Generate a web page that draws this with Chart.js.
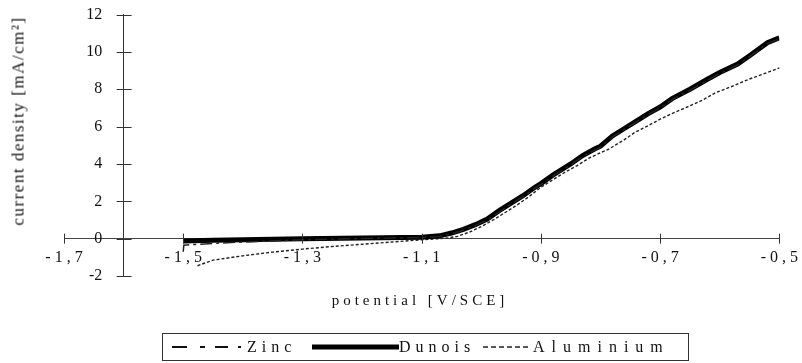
<!DOCTYPE html>
<html>
<head>
<meta charset="utf-8">
<script src="https://cdn.jsdelivr.net/npm/chart.js@4"></script>
<style>
    body { margin: 0; background: #fff; overflow: hidden; }
    #wrap { position: relative; width: 802px; height: 363px; overflow: hidden; font-family: "Liberation Serif", "DejaVu Serif", serif; color: #111; }
    /* le canvas est decale pour caler la zone du graphique */
    #chart { position: absolute; left: 0; top: -18px; }
    .txt { position: absolute; white-space: nowrap; line-height: 1; }
    #ytitle { left: 18px; top: 121px; font-size: 17px; letter-spacing: 1.5px; transform: translate(-50%, -50%) rotate(-90deg); }
    #xtitle { left: 420px; top: 300px; font-size: 15px; letter-spacing: 4px; transform: translate(-50%, -50%); }
    #legend { position: absolute; left: 162px; top: 333px; width: 525px; height: 26px; border: 1px solid #333; }
    #legend svg { position: absolute; top: 6px; }
    #legend .txt { top: 13px; font-size: 16px; transform: translateY(-50%); }
</style>
</head>
<body>
<div id="wrap">
    <canvas id="chart" width="808" height="381"></canvas>
    <div id="ytitle" class="txt">current density [mA/cm²]</div>
    <div id="xtitle" class="txt">potential [V/SCE]</div>
    <div id="legend">
        <svg style="left:9px" width="72" height="14"><line x1="0" y1="7" x2="72" y2="7" stroke="#111" stroke-width="2" stroke-dasharray="15,13,5,10,13,10,3,20"/></svg>
        <span class="txt" style="left:84px; letter-spacing:5px">Zinc</span>
        <svg style="left:149px" width="87" height="14"><line x1="0" y1="7" x2="87" y2="7" stroke="#000" stroke-width="5" stroke-linecap="round"/></svg>
        <span class="txt" style="left:236px; letter-spacing:5px">Dunois</span>
        <svg style="left:320px" width="45" height="14"><line x1="0" y1="7" x2="45" y2="7" stroke="#222" stroke-width="1.3" stroke-dasharray="5,3"/></svg>
        <span class="txt" style="left:370px; letter-spacing:7px">Aluminium</span>
    </div>
</div>
<script>
// potentiel (V/SCE) et densite de courant (mA/cm2)
const zincPotential = [-1.50, -1.499, -1.45, -1.40, -1.30, -1.20, -1.10, -1.07, -1.05, -1.03, -1.01, -0.99, -0.97, -0.95, -0.93, -0.91, -0.90, -0.88, -0.86, -0.85, -0.83, -0.81, -0.80, -0.78, -0.76, -0.74, -0.72, -0.70, -0.68, -0.65, -0.62, -0.60, -0.57, -0.55, -0.52, -0.50, -0.49];
const zincCurrent   = [-0.70, -0.35, -0.25, -0.18, -0.06, 0.01, 0.06, 0.12, 0.26, 0.45, 0.70, 1.00, 1.42, 1.85, 2.25, 2.70, 2.90, 3.35, 3.75, 3.95, 4.40, 4.75, 4.90, 5.45, 5.85, 6.25, 6.65, 7.00, 7.45, 7.95, 8.50, 8.85, 9.30, 9.75, 10.45, 10.70, 10.85];

const dunoisPotential = [-1.50, -1.45, -1.40, -1.30, -1.20, -1.10, -1.07, -1.05, -1.03, -1.01, -0.99, -0.97, -0.95, -0.93, -0.91, -0.90, -0.88, -0.86, -0.85, -0.83, -0.81, -0.80, -0.78, -0.76, -0.74, -0.72, -0.70, -0.68, -0.65, -0.62, -0.60, -0.57, -0.55, -0.52, -0.50, -0.487];
const dunoisCurrent   = [-0.12, -0.09, -0.06, 0.0, 0.04, 0.08, 0.15, 0.30, 0.50, 0.75, 1.05, 1.50, 1.90, 2.30, 2.75, 2.95, 3.40, 3.80, 4.00, 4.45, 4.80, 4.95, 5.50, 5.90, 6.30, 6.70, 7.05, 7.50, 8.00, 8.55, 8.90, 9.35, 9.80, 10.50, 10.75, 10.95];

const aluPotential = [-1.476, -1.45, -1.40, -1.35, -1.30, -1.25, -1.20, -1.15, -1.10, -1.06, -1.04, -1.02, -1.00, -0.98, -0.96, -0.94, -0.92, -0.90, -0.88, -0.86, -0.84, -0.82, -0.80, -0.786, -0.76, -0.742, -0.72, -0.70, -0.68, -0.658, -0.63, -0.608, -0.58, -0.55, -0.52, -0.495, -0.487];
const aluCurrent   = [-1.45, -1.15, -0.92, -0.72, -0.56, -0.42, -0.30, -0.18, -0.06, 0.02, 0.12, 0.35, 0.65, 1.00, 1.40, 1.80, 2.25, 2.75, 3.15, 3.55, 3.90, 4.30, 4.60, 4.80, 5.30, 5.70, 6.05, 6.40, 6.70, 7.00, 7.40, 7.80, 8.15, 8.55, 8.90, 9.20, 9.30];

// ticks des axes
const xTicks = [-1.7, -1.5, -1.3, -1.1, -0.9, -0.7, -0.5];
const yTicks = [-2, 0, 2, 4, 6, 8, 10, 12];

function toPoints(xs, ys) {
    return xs.map((x, i) => ({ x: x, y: ys[i] }));
}

// formatar o rotulo com virgula e espacos
function formatTick(value) {
    return value.toFixed(1).replace('.', ',').split('').join('\u2005');
}

// petits traits qui croisent les axes
const crossTicks = {
    id: 'crossTicks',
    afterDatasetsDraw(chart) {
        const ctx = chart.ctx;
        const xs = chart.scales.x, ys = chart.scales.y;
        const x0 = xs.getPixelForValue(-1.6);
        const y0 = ys.getPixelForValue(0);
        ctx.save();
        ctx.strokeStyle = '#333';
        ctx.lineWidth = 1;
        ctx.beginPath();
        xTicks.forEach(v => {
            const px = Math.round(xs.getPixelForValue(v)) + 0.5;
            ctx.moveTo(px, y0 - 5);
            ctx.lineTo(px, y0 + 5);
        });
        yTicks.forEach(v => {
            const py = Math.round(ys.getPixelForValue(v)) + 0.5;
            ctx.moveTo(x0 - 7, py);
            ctx.lineTo(x0 + 8, py);
        });
        ctx.stroke();
        ctx.restore();
    }
};

new Chart(document.getElementById('chart'), {
    type: 'scatter',
    data: {
        datasets: [
            {
                label: 'Zinc',
                data: toPoints(zincPotential, zincCurrent),
                showLine: true,
                borderColor: '#222',
                borderWidth: 1.5,
                borderDash: [12, 4, 3, 4],
                pointRadius: 0,
                tension: 0
            },
            {
                label: 'Dunois',
                data: toPoints(dunoisPotential, dunoisCurrent),
                showLine: true,
                borderColor: '#000',
                borderWidth: 5,
                pointRadius: 0,
                tension: 0
            },
            {
                label: 'Aluminium',
                data: toPoints(aluPotential, aluCurrent),
                showLine: true,
                borderColor: '#222',
                borderWidth: 1.4,
                borderDash: [3, 2],
                pointRadius: 0,
                tension: 0
            }
        ]
    },
    options: {
        responsive: false,
        animation: false,
        layout: { padding: { left: 64, right: 17, top: -2, bottom: 87 } },
        plugins: {
            legend: { display: false },
            tooltip: { enabled: false }
        },
        scales: {
            x: {
                type: 'linear',
                position: { y: 0 },
                min: -1.7,
                max: -0.5,
                afterBuildTicks: axis => { axis.ticks = xTicks.map(v => ({ value: v })); },
                grid: { display: false, drawTicks: false },
                border: { color: '#444', width: 1 },
                ticks: {
                    padding: 10,
                    color: '#111',
                    maxRotation: 0,
                    autoSkip: false,
                    font: { family: 'Liberation Serif', size: 16 },
                    callback: formatTick
                }
            },
            y: {
                type: 'linear',
                position: { x: -1.6 },
                min: -2,
                max: 12,
                afterBuildTicks: axis => { axis.ticks = yTicks.map(v => ({ value: v })); },
                grid: { display: false, drawTicks: false },
                border: { color: '#333', width: 1 },
                ticks: {
                    padding: 23,
                    color: '#111',
                    font: { family: 'Liberation Serif', size: 16 },
                    // espaces a droite pour ecarter le texte de l'axe
                    callback: v => String(v) + '\u2003\u2005\u200A'
                }
            }
        }
    },
    plugins: [crossTicks]
});
</script>
</body>
</html>
